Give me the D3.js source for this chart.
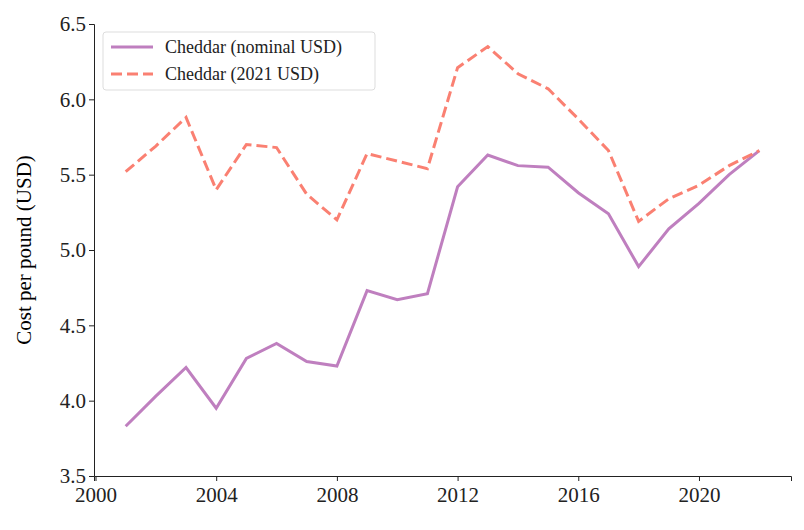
<!DOCTYPE html>
<html><head><meta charset="utf-8">
<script src="https://cdn.jsdelivr.net/npm/d3@7"></script>
<style>
body{margin:0;background:#fff;}
text{font-family:"Liberation Serif","DejaVu Serif",serif;}
</style></head>
<body><svg width="804" height="530"></svg>
<script>
var years = d3.range(2001, 2023);
var nominal = [3.83,4.03,4.22,3.95,4.28,4.38,4.26,4.23,4.73,4.67,4.71,5.42,5.63,5.56,5.55,5.38,5.24,4.89,5.14,5.31,5.50,5.66];
var real2021 = [5.52,5.69,5.88,5.40,5.70,5.68,5.37,5.20,5.64,5.59,5.54,6.21,6.35,6.17,6.07,5.87,5.66,5.19,5.34,5.43,5.56,5.66];
var xTicks = [2000,2004,2008,2012,2016,2020];
var yTicks = [3.5,4.0,4.5,5.0,5.5,6.0,6.5];

var svg = d3.select('svg');
var x = d3.scaleLinear().domain([1999.95,2023.05]).range([94,791]);
var y = d3.scaleLinear().domain([3.5,6.5]).range([476,24]);

var xAxis = svg.append('g').attr('transform','translate(0,476)')
	.call(d3.axisBottom(x).tickValues(xTicks).tickFormat(d3.format('d')).tickSizeOuter(0).tickSize(5));
var yAxis = svg.append('g').attr('transform','translate(94,0)')
	.call(d3.axisLeft(y).tickValues(yTicks).tickFormat(d3.format('.1f')).tickSizeOuter(0).tickSize(5));
[xAxis,yAxis].forEach(function(a){
	a.selectAll('text').attr('font-size',21).attr('fill','#222');
	a.selectAll('line,path').attr('stroke','#222');
});
xAxis.selectAll('text').attr('dy','0.85em');

svg.append('text').attr('transform','translate(31,250) rotate(-90)')
	.attr('text-anchor','middle').attr('font-size',21).text('Cost per pound (USD)');

var line = function(vals){
	return d3.line().x(function(d,i){return x(years[i]);}).y(function(d){return y(d);})(vals);
};
svg.append('path').attr('d',line(nominal)).attr('fill','none')
	.attr('stroke','#bf7fbf').attr('stroke-width',3);
svg.append('path').attr('d',line(real2021)).attr('fill','none')
	.attr('stroke','#fa8072').attr('stroke-width',3).attr('stroke-dasharray','11,5');

/** legend */
var lg = svg.append('g').attr('transform','translate(103,32)');
lg.append('rect').attr('width',272).attr('height',58).attr('rx',3)
	.attr('fill','#fff').attr('stroke','#ddd');
var items = [['Cheddar (nominal USD)','#bf7fbf',null],['Cheddar (2021 USD)','#fa8072','11,5']];
items.forEach(function(it,i){
	var yy = 15 + i*27;
	lg.append('line').attr('x1',8).attr('x2',50).attr('y1',yy).attr('y2',yy)
		.attr('stroke',it[1]).attr('stroke-width',3).attr('stroke-dasharray',it[2]);
	lg.append('text').attr('x',62).attr('y',yy+6).attr('font-size',18).attr('fill','#222').text(it[0]);
});
</script></body></html>
